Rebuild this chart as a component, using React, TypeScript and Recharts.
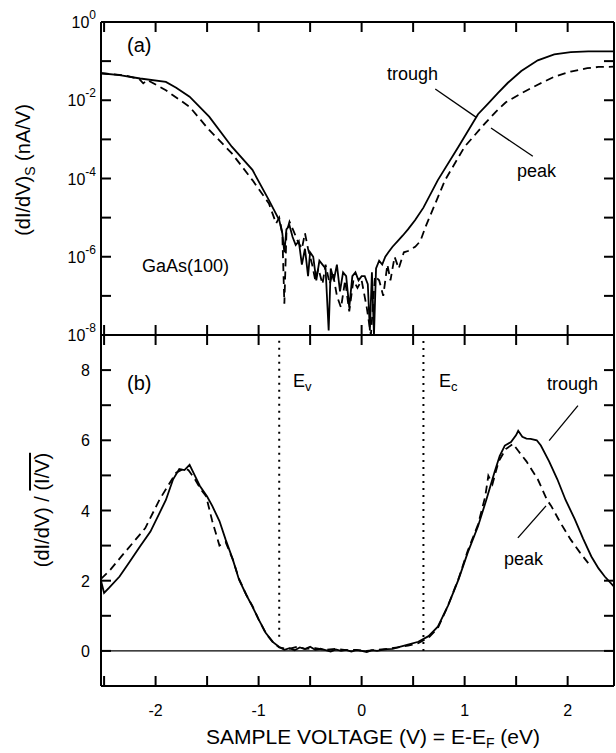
import React from "react";
import { LineChart, Line, XAxis, YAxis, ReferenceLine } from "recharts";

const FONT = '"Liberation Sans", Arial, Helvetica, sans-serif';

// shared x axis
const xTicks = [-2.5, -2, -1.5, -1, -0.5, 0, 0.5, 1, 1.5, 2];
const xLabels = [-2, -1, 0, 1, 2];
const xDomain = [-2.53, 2.45];

// panel (a) log axis
const logTicks = [1e-8, 1e-7, 1e-6, 1e-5, 1e-4, 1e-3, 1e-2, 1e-1, 1];
const logLabels = [-8, -6, -4, -2, 0];

// panel (b) linear axis
const linTicks = [0, 1, 2, 3, 4, 5, 6, 7, 8];
const linLabels = [0, 2, 4, 6, 8];

// (a) trough, solid
const aTroughV = [-2.53, -2.35, -2.15, -1.9, -1.8, -1.67, -1.48, -1.26, -1.06, -0.9, -0.8, -0.77, -0.75, -0.73, -0.7, -0.67, -0.64, -0.61, -0.58, -0.55, -0.52, -0.5, -0.47, -0.44, -0.41, -0.38, -0.35, -0.32, -0.3, -0.27, -0.24, -0.21, -0.18, -0.15, -0.12, -0.09, -0.06, -0.03, 0, 0.03, 0.06, 0.08, 0.1, 0.12, 0.14, 0.17, 0.2, 0.23, 0.26, 0.3, 0.35, 0.4, 0.45, 0.52, 0.6, 0.74, 0.94, 1.13, 1.23, 1.32, 1.42, 1.55, 1.71, 1.87, 2.03, 2.2, 2.45];
const aTroughS = [4.9e-2, 4.4e-2, 3.6e-2, 2.95e-2, 2.1e-2, 1.23e-2, 3.8e-3, 6.5e-4, 1.66e-4, 2.8e-5, 8.7e-6, 4.0e-6, 1.3e-6, 5.0e-6, 6.3e-6, 3.2e-6, 2.0e-6, 2.5e-6, 6.3e-7, 1.6e-6, 3.2e-7, 1.3e-6, 1.0e-6, 2.5e-7, 7.9e-7, 6.3e-7, 5.0e-7, 1.3e-8, 5.0e-7, 2.5e-7, 6.3e-7, 1.3e-7, 4.0e-7, 3.2e-7, 5.0e-8, 3.2e-7, 4.0e-7, 2.5e-7, 3.2e-7, 3.2e-7, 2.0e-7, 1.3e-8, 4.0e-7, 1.0e-8, 5.0e-7, 7.9e-7, 6.3e-7, 1.0e-6, 1.3e-6, 1.8e-6, 2.5e-6, 3.5e-6, 5.0e-6, 8.7e-6, 1.8e-5, 9.1e-5, 6.5e-4, 4.4e-3, 8.3e-3, 1.5e-2, 2.8e-2, 5.6e-2, 1.05e-1, 1.48e-1, 1.7e-1, 1.78e-1, 1.78e-1];

// (a) peak, dashed
const aPeakV = [-2.53, -2.3, -2.16, -2.12, -2.08, -1.9, -1.67, -1.48, -1.26, -1.06, -0.9, -0.83, -0.8, -0.77, -0.75, -0.73, -0.7, -0.66, -0.62, -0.58, -0.55, -0.52, -0.48, -0.45, -0.42, -0.38, -0.35, -0.31, -0.28, -0.24, -0.2, -0.16, -0.12, -0.08, -0.04, 0, 0.05, 0.09, 0.13, 0.17, 0.21, 0.25, 0.28, 0.32, 0.36, 0.41, 0.45, 0.52, 0.57, 0.62, 0.81, 1.0, 1.2, 1.3, 1.4, 1.55, 1.71, 1.87, 2.03, 2.19, 2.3, 2.45];
const aPeakS = [4.9e-2, 4.3e-2, 3.5e-2, 2.7e-2, 3.3e-2, 1.8e-2, 6.8e-3, 1.74e-3, 4.4e-4, 9.1e-5, 2.3e-5, 7.1e-6, 1.0e-5, 4.0e-6, 6.3e-8, 4.0e-6, 7.9e-6, 4.5e-6, 2.5e-6, 1.6e-6, 4.0e-6, 1.6e-6, 6.3e-7, 2.5e-7, 5.0e-7, 2.0e-7, 6.3e-7, 2.0e-7, 4.0e-7, 1.0e-7, 5.0e-8, 2.5e-7, 4.0e-8, 2.5e-7, 1.6e-7, 2.5e-7, 5.0e-8, 1.0e-8, 3.2e-7, 2.5e-7, 1.0e-7, 6.3e-7, 2.5e-7, 1.0e-6, 5.0e-7, 1.3e-6, 1.4e-6, 1.8e-6, 2.5e-6, 5.8e-6, 9.1e-5, 6.5e-4, 2.6e-3, 5.0e-3, 8.9e-3, 1.5e-2, 2.5e-2, 4.0e-2, 5.4e-2, 6.6e-2, 7.1e-2, 7.2e-2];

// (b) trough, solid
const bTroughV = [-2.53, -2.5, -2.45, -2.35, -2.25, -2.15, -2.05, -1.96, -1.9, -1.83, -1.77, -1.72, -1.67, -1.62, -1.57, -1.5, -1.45, -1.38, -1.32, -1.25, -1.19, -1.12, -1.06, -1.0, -0.93, -0.86, -0.8, -0.75, -0.7, -0.65, -0.6, -0.55, -0.5, -0.45, -0.4, -0.35, -0.3, -0.25, -0.2, -0.15, -0.1, -0.05, 0, 0.05, 0.1, 0.15, 0.2, 0.25, 0.3, 0.36, 0.45, 0.55, 0.65, 0.74, 0.84, 0.94, 1.03, 1.13, 1.21, 1.29, 1.34, 1.39, 1.45, 1.5, 1.52, 1.56, 1.6, 1.64, 1.7, 1.74, 1.82, 1.9, 1.98, 2.07, 2.15, 2.23, 2.3, 2.36, 2.45];
const bTroughR = [2.0, 1.65, 1.8, 2.12, 2.55, 2.98, 3.4, 3.94, 4.3, 4.89, 5.18, 5.15, 5.3, 5.0, 4.7, 4.4, 4.13, 3.7, 3.17, 2.6, 2.03, 1.6, 1.26, 0.9, 0.51, 0.25, 0.11, 0.03, 0.08, 0.02, 0.1, 0.05, 0.12, 0.03, 0.06, 0.02, -0.02, 0.04, 0.0, 0.03, -0.02, 0.02, 0.0, -0.03, 0.02, 0.0, 0.03, 0.05, 0.06, 0.11, 0.18, 0.26, 0.42, 0.69, 1.3, 2.03, 2.8, 3.55, 4.3, 5.09, 5.55, 5.85, 5.95, 6.15, 6.27, 6.1, 6.05, 6.04, 6.0, 5.85, 5.4, 4.89, 4.3, 3.75, 3.2, 2.69, 2.35, 2.12, 1.83];

// (b) peak, dashed
const bPeakV = [-2.53, -2.44, -2.33, -2.22, -2.1, -1.96, -1.88, -1.8, -1.72, -1.68, -1.62, -1.56, -1.51, -1.45, -1.38, -1.32, -1.25, -1.19, -1.12, -1.06, -1.0, -0.93, -0.86, -0.8, -0.72, -0.62, -0.55, -0.45, -0.35, -0.25, -0.15, -0.05, 0.05, 0.15, 0.25, 0.35, 0.45, 0.55, 0.65, 0.74, 0.84, 0.94, 1.03, 1.13, 1.2, 1.23, 1.27, 1.33, 1.4, 1.47, 1.52, 1.6, 1.71, 1.8, 1.84, 1.93, 2.03, 2.12, 2.2];
const bPeakR = [2.05, 2.31, 2.7, 3.08, 3.5, 4.32, 4.7, 5.08, 5.2, 5.15, 4.9, 4.6, 4.41, 3.7, 3.0, 3.1, 2.6, 2.05, 1.6, 1.28, 0.9, 0.5, 0.24, 0.1, 0.05, 0.12, 0.06, 0.08, 0.03, 0.06, 0.02, 0.03, 0.0, 0.03, 0.06, 0.1, 0.15, 0.22, 0.38, 0.65, 1.3, 2.05, 2.85, 3.6, 4.4, 4.99, 4.75, 5.4, 5.75, 5.9, 5.7, 5.4, 4.89, 4.3, 4.13, 3.65, 3.17, 2.8, 2.5];

const zip = (xs: number[], ys: number[]) => xs.map((x, i) => ({ x, y: ys[i] }));
const aTrough = zip(aTroughV, aTroughS);
const aPeak = zip(aPeakV, aPeakS);
const bTrough = zip(bTroughV, bTroughR);
const bPeak = zip(bPeakV, bPeakR);

const AXIS = { stroke: "#000", strokeWidth: 2 };
const TICKLINE = { stroke: "#000", strokeWidth: 2 };
const IN = -10; // inward ticks

// with tickSize -10 the given x/y sit 10px inside the frame
const noLabel = () => <g />;

const xLabel = (p: any) => {
  const v = p.payload.value;
  if (!xLabels.includes(v)) return <g />;
  return (
    <text x={p.x} y={p.y + 40} textAnchor="middle" fontSize={16} fontFamily={FONT} fill="#000">
      {String(v)}
    </text>
  );
};

const logLabel = (p: any) => {
  const e = Math.round(Math.log10(p.payload.value));
  if (!logLabels.includes(e)) return <g />;
  return (
    <text x={p.x - 15} y={p.y + 6} textAnchor="end" fontSize={16} fontFamily={FONT} fill="#000">
      10<tspan dy={-9} fontSize={12}>{String(e)}</tspan>
    </text>
  );
};

const linLabel = (p: any) => {
  const v = p.payload.value;
  if (!linLabels.includes(v)) return <g />;
  return (
    <text x={p.x - 21} y={p.y + 6} textAnchor="end" fontSize={16} fontFamily={FONT} fill="#000">
      {String(v)}
    </text>
  );
};

const txt = { fontFamily: FONT, fill: "#000" };

export default function App() {
  return (
    <div style={{ position: "absolute", left: 0, top: 0, width: 616, height: 753, background: "#fff" }}>
      <div style={{ position: "absolute", left: 0, top: 0 }}>
        <LineChart width={616} height={353} margin={{ top: 21, right: 1, left: 0, bottom: 17 }}>
          <XAxis xAxisId="b" type="number" dataKey="x" domain={xDomain} allowDataOverflow ticks={xTicks} interval={0}
            height={1} tickSize={IN} tickMargin={0} tickLine={TICKLINE} axisLine={AXIS} tick={noLabel} />
          <XAxis xAxisId="t" orientation="top" type="number" dataKey="x" domain={xDomain} allowDataOverflow ticks={xTicks} interval={0}
            height={1} tickSize={IN} tickMargin={0} tickLine={TICKLINE} axisLine={AXIS} tick={noLabel} />
          <YAxis yAxisId="l" type="number" scale="log" domain={[1e-8, 1]} allowDataOverflow ticks={logTicks} interval={0}
            width={101} tickSize={IN} tickMargin={0} tickLine={TICKLINE} axisLine={AXIS} tick={logLabel} />
          <YAxis yAxisId="r" orientation="right" type="number" scale="log" domain={[1e-8, 1]} allowDataOverflow ticks={logTicks} interval={0}
            width={1} tickSize={IN} tickMargin={0} tickLine={TICKLINE} axisLine={AXIS} tick={noLabel} />
          <Line xAxisId="b" yAxisId="l" data={aTrough} dataKey="y" type="linear" dot={false} stroke="#000" strokeWidth={1.8} isAnimationActive={false} />
          <Line xAxisId="b" yAxisId="l" data={aPeak} dataKey="y" type="linear" dot={false} stroke="#000" strokeWidth={1.8} strokeDasharray="8 5" isAnimationActive={false} />
          <ReferenceLine xAxisId="b" yAxisId="l" segment={[{ x: 0.715, y: 0.0194 }, { x: 1.11, y: 0.0037 }]} stroke="#000" strokeWidth={1.3} />
          <ReferenceLine xAxisId="b" yAxisId="l" segment={[{ x: 1.256, y: 0.00195 }, { x: 1.662, y: 0.00037 }]} stroke="#000" strokeWidth={1.3} />
          <text x={127} y={52} fontSize={20} {...txt}>(a)</text>
          <text x={142} y={272} fontSize={18} {...txt}>GaAs(100)</text>
          <text x={387} y={80} fontSize={18} {...txt}>trough</text>
          <text x={517} y={177} fontSize={18} {...txt}>peak</text>
          <text x={30} y={170} fontSize={20} textAnchor="middle" transform="rotate(-90 30 170)" {...txt}>
            (dI/dV)<tspan fontSize={14} dy={5}>S</tspan><tspan dy={-5}> (nA/V)</tspan>
          </text>
        </LineChart>
      </div>
      <div style={{ position: "absolute", left: 0, top: 0 }}>
        <LineChart width={616} height={753} margin={{ top: 334, right: 1, left: 0, bottom: 0 }}>
          <XAxis xAxisId="b" type="number" dataKey="x" domain={xDomain} allowDataOverflow ticks={xTicks} interval={0}
            height={67} tickSize={IN} tickMargin={0} tickLine={TICKLINE} axisLine={AXIS} tick={xLabel} />
          <XAxis xAxisId="t" orientation="top" type="number" dataKey="x" domain={xDomain} allowDataOverflow ticks={xTicks} interval={0}
            height={1} tickSize={IN} tickMargin={0} tickLine={TICKLINE} axisLine={AXIS} tick={noLabel} />
          <YAxis yAxisId="l" type="number" domain={[-1, 9]} allowDataOverflow ticks={linTicks} interval={0}
            width={101} tickSize={IN} tickMargin={0} tickLine={TICKLINE} axisLine={AXIS} tick={linLabel} />
          <YAxis yAxisId="r" orientation="right" type="number" domain={[-1, 9]} allowDataOverflow ticks={linTicks} interval={0}
            width={1} tickSize={IN} tickMargin={0} tickLine={TICKLINE} axisLine={AXIS} tick={noLabel} />
          <ReferenceLine xAxisId="b" yAxisId="l" y={0} stroke="#000" strokeWidth={1.3} />
          <ReferenceLine xAxisId="b" yAxisId="l" segment={[{ x: -0.8, y: 0.4 }, { x: -0.8, y: 9 }]} stroke="#000" strokeWidth={2} strokeDasharray="2 5" />
          <ReferenceLine xAxisId="b" yAxisId="l" segment={[{ x: 0.6, y: 0 }, { x: 0.6, y: 9 }]} stroke="#000" strokeWidth={2} strokeDasharray="2 5" />
          <Line xAxisId="b" yAxisId="l" data={bTrough} dataKey="y" type="linear" dot={false} stroke="#000" strokeWidth={1.8} isAnimationActive={false} />
          <Line xAxisId="b" yAxisId="l" data={bPeak} dataKey="y" type="linear" dot={false} stroke="#000" strokeWidth={1.8} strokeDasharray="8 5" isAnimationActive={false} />
          <ReferenceLine xAxisId="b" yAxisId="l" segment={[{ x: 2.1, y: 6.99 }, { x: 1.82, y: 5.99 }]} stroke="#000" strokeWidth={1.3} />
          <ReferenceLine xAxisId="b" yAxisId="l" segment={[{ x: 1.79, y: 4.13 }, { x: 1.517, y: 3.22 }]} stroke="#000" strokeWidth={1.3} />
          <text x={127} y={390} fontSize={20} {...txt}>(b)</text>
          <text x={293} y={387} fontSize={18} {...txt}>E<tspan fontSize={13} dy={4}>v</tspan></text>
          <text x={439} y={387} fontSize={18} {...txt}>E<tspan fontSize={13} dy={4}>c</tspan></text>
          <text x={547} y={390} fontSize={18} {...txt}>trough</text>
          <text x={504} y={565} fontSize={18} {...txt}>peak</text>
          <text x={49} y={510} fontSize={20} textAnchor="middle" transform="rotate(-90 49 510)" {...txt}>
            (dI/dV) / <tspan style={{ textDecoration: "overline" }}>(I/V)</tspan>
          </text>
          <text x={373} y={744} fontSize={21} textAnchor="middle" {...txt}>
            SAMPLE VOLTAGE (V) = E-E<tspan fontSize={14} dy={4}>F</tspan><tspan dy={-4}> (eV)</tspan>
          </text>
        </LineChart>
      </div>
    </div>
  );
}
